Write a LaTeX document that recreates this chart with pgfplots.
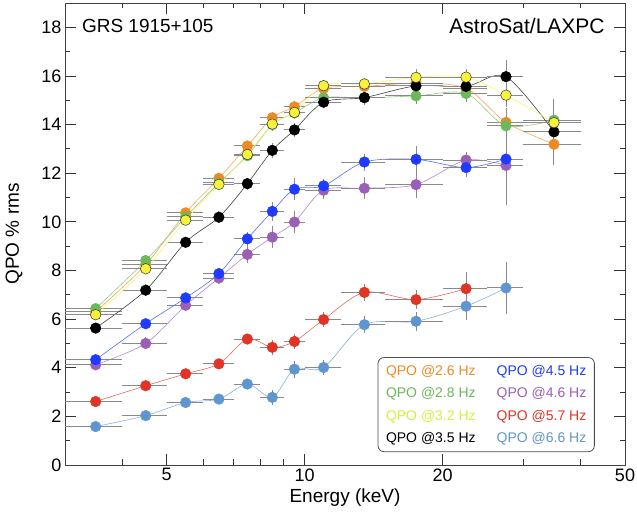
\documentclass[border=0pt]{standalone}
\usepackage{fontspec}
\setmainfont{Liberation Sans}
\setsansfont{Liberation Sans}
\usepackage{pgfplots}
\pgfplotsset{compat=1.18}
\usepackage{pgfplotstable}

\definecolor{cOrange}{HTML}{EC8B25}
\definecolor{cGreen}{HTML}{6DB85A}
\definecolor{cYellow}{HTML}{F8F23A}
\definecolor{cBlue}{HTML}{1F3BFF}
\definecolor{cPurple}{HTML}{9B5FB8}
\definecolor{cRed}{HTML}{DE3526}
\definecolor{cLBlue}{HTML}{5F96D0}
\definecolor{cLegYellow}{HTML}{D9EE3A}
\definecolor{cErr}{HTML}{8A8A8A}

% QPO @2.6 Hz
\pgfplotstableread{
x y ex ey
3.5 6.30 0.5 0.15
4.5 8.24 0.5 0.20
5.5 10.37 0.5 0.20
6.5 11.79 0.5 0.20
7.5 13.12 0.5 0.20
8.5 14.28 0.5 0.25
9.5 14.73 0.5 0.25
11 15.49 1 0.20
13.5 15.57 1.5 0.25
17.5 15.70 2.5 0.35
22.5 15.49 2.5 0.35
27.5 14.09 2.5 0.60
35 13.19 5 0.60
}\tOrange
% QPO @2.8 Hz
\pgfplotstableread{
x y ex ey
3.5 6.43 0.5 0.15
4.5 8.41 0.5 0.20
5.5 10.20 0.5 0.20
6.5 11.60 0.5 0.20
7.5 12.72 0.5 0.20
8.5 14.00 0.5 0.25
9.5 14.48 0.5 0.25
11 15.10 1 0.20
13.5 15.10 1.5 0.25
17.5 15.18 2.5 0.35
22.5 15.28 2.5 0.35
27.5 13.95 2.5 0.60
35 14.18 5 0.60
}\tGreen
% QPO @3.2 Hz
\pgfplotstableread{
x y ex ey
3.5 6.18 0.5 0.15
4.5 8.07 0.5 0.20
5.5 10.07 0.5 0.20
6.5 11.54 0.5 0.20
7.5 12.77 0.5 0.20
8.5 14.02 0.5 0.25
9.5 14.50 0.5 0.25
11 15.60 1 0.20
13.5 15.67 1.5 0.25
17.5 15.94 2.5 0.35
22.5 15.95 2.5 0.35
27.5 15.21 2.5 0.50
35 14.08 5 0.60
}\tYellow
% QPO @3.5 Hz
\pgfplotstableread{
x y ex ey
3.5 5.63 0.5 0.20
4.5 7.19 0.5 0.25
5.5 9.16 0.5 0.20
6.5 10.19 0.5 0.25
7.5 11.57 0.5 0.25
8.5 12.94 0.5 0.30
9.5 13.78 0.5 0.30
11 14.92 1 0.25
13.5 15.11 1.5 0.30
17.5 15.59 2.5 0.45
22.5 15.57 2.5 0.40
27.5 15.97 2.5 0.70
35 13.70 5 1.35
}\tBlack
% QPO @4.5 Hz
\pgfplotstableread{
x y ex ey
3.5 4.33 0.5 0.20
4.5 5.81 0.5 0.20
5.5 6.87 0.5 0.25
6.5 7.87 0.5 0.25
7.5 9.30 0.5 0.30
8.5 10.43 0.5 0.40
9.5 11.34 0.5 0.45
11 11.48 1 0.30
13.5 12.46 1.5 0.35
17.5 12.57 2.5 0.55
22.5 12.23 2.5 0.40
27.5 12.58 2.5 1.90
}\tBlue
% QPO @4.6 Hz
\pgfplotstableread{
x y ex ey
3.5 4.12 0.5 0.20
4.5 5.00 0.5 0.25
5.5 6.57 0.5 0.25
6.5 7.69 0.5 0.25
7.5 8.66 0.5 0.35
8.5 9.37 0.5 0.45
9.5 9.99 0.5 0.45
11 11.30 1 0.35
13.5 11.38 1.5 0.45
17.5 11.53 2.5 0.55
22.5 12.54 2.5 0.35
27.5 12.32 2.5 1.00
}\tPurple
% QPO @5.7 Hz
\pgfplotstableread{
x y ex ey
3.5 2.61 0.5 0.15
4.5 3.26 0.5 0.15
5.5 3.75 0.5 0.15
6.5 4.16 0.5 0.20
7.5 5.18 0.5 0.20
8.5 4.84 0.5 0.30
9.5 5.08 0.5 0.30
11 5.98 1 0.30
13.5 7.10 1.5 0.35
17.5 6.80 2.5 0.40
22.5 7.25 2.5 0.70
}\tRed
% QPO @6.6 Hz
\pgfplotstableread{
x y ex ey
3.5 1.58 0.5 0.20
4.5 2.03 0.5 0.15
5.5 2.57 0.5 0.15
6.5 2.71 0.5 0.15
7.5 3.33 0.5 0.20
8.5 2.78 0.5 0.30
9.5 3.94 0.5 0.35
11 4.01 1 0.30
13.5 5.77 1.5 0.35
17.5 5.91 2.5 0.40
22.5 6.53 2.5 0.55
27.5 7.28 2.5 1.05
}\tLBlue

\pgfplotsset{
  qpo/.style 2 args={
    smooth, tension=0.5, line width=0.6pt, draw=#1!75,
    mark=*, mark size=5.3pt, mark options={solid, fill=#1, draw=#2, line width=0.5pt},
    /pgfplots/error bars/x dir=both, /pgfplots/error bars/x explicit,
    /pgfplots/error bars/y dir=both, /pgfplots/error bars/y explicit,
    /pgfplots/error bars/error mark=none,
    /pgfplots/error bars/error bar style={line width=1pt, cErr, solid},
  },
}

\begin{document}
\begin{tikzpicture}
\begin{axis}[
  scale only axis, width=560pt, height=462pt,
  xmode=log, xmin=3, xmax=50, ymin=0, ymax=19,
  xtick={5,10,20,50}, xticklabels={5,10,20,50},
  minor xtick={4,6,7,8,9,30,40},
  ytick={0,2,...,18}, minor ytick={1,3,...,17},
  tick align=inside,
  major tick length=11pt, minor tick length=5.5pt,
  every tick/.style={black!80, line width=0.8pt},
  axis line style={line width=0.8pt, black!75},
  /pgf/number format/assume math mode=true,
  ticklabel style={font=\fontsize{18}{20}\selectfont},
  xlabel={Energy (keV)}, ylabel={QPO \% rms},
  label style={font=\fontsize{19}{22}\selectfont},
  xlabel style={yshift=-1pt},
  ylabel style={yshift=12pt},
  legend columns=2,
  legend cell align=left,
  legend style={at={(0.946,0.028)}, anchor=south east, draw=black!70,
    line width=0.8pt, rounded corners=6pt,
    font=\fontsize{14}{16}\selectfont,
    inner xsep=6pt, inner ysep=6pt, row sep=6.5pt,
    /tikz/every even column/.append style={column sep=17pt}},
  clip=false,
]
\addplot[forget plot, qpo={cLBlue}{cLBlue}] table[x=x, y=y, x error=ex, y error=ey] {\tLBlue};
\addplot[forget plot, qpo={cRed}{cRed}] table[x=x, y=y, x error=ex, y error=ey] {\tRed};
\addplot[forget plot, qpo={cPurple}{cPurple}] table[x=x, y=y, x error=ex, y error=ey] {\tPurple};
\addplot[forget plot, qpo={cBlue}{cBlue}] table[x=x, y=y, x error=ex, y error=ey] {\tBlue};
\addplot[forget plot, qpo={cOrange}{cOrange}] table[x=x, y=y, x error=ex, y error=ey] {\tOrange};
\addplot[forget plot, qpo={cGreen}{cGreen}] table[x=x, y=y, x error=ex, y error=ey] {\tGreen};
\addplot[forget plot, qpo={black}{black}] table[x=x, y=y, x error=ex, y error=ey] {\tBlack};
\addplot[forget plot, qpo={cYellow}{black!80}] table[x=x, y=y, x error=ex, y error=ey] {\tYellow};

\addlegendimage{empty legend}\addlegendentry{\textcolor{cOrange}{QPO @2.6 Hz}}
\addlegendimage{empty legend}\addlegendentry{\textcolor{cBlue}{QPO @4.5 Hz}}
\addlegendimage{empty legend}\addlegendentry{\textcolor{cGreen}{QPO @2.8 Hz}}
\addlegendimage{empty legend}\addlegendentry{\textcolor{cPurple}{QPO @4.6 Hz}}
\addlegendimage{empty legend}\addlegendentry{\textcolor{cLegYellow}{QPO @3.2 Hz}}
\addlegendimage{empty legend}\addlegendentry{\textcolor{cRed}{QPO @5.7 Hz}}
\addlegendimage{empty legend}\addlegendentry{\textcolor{black}{QPO @3.5 Hz}}
\addlegendimage{empty legend}\addlegendentry{\textcolor{cLBlue}{QPO @6.6 Hz}}

\node[anchor=west, inner sep=0pt, font=\fontsize{19}{22}\selectfont] at (rel axis cs:0.030,0.950) {GRS 1915+105};
\node[anchor=east, inner sep=0pt, font=\fontsize{21}{24}\selectfont] at (rel axis cs:0.964,0.950) {AstroSat/LAXPC};
\coordinate (bl) at (rel axis cs:0,0);
\coordinate (tr) at (rel axis cs:1,1);
\end{axis}
\pgfresetboundingbox
\path ([shift={(-65pt,-49pt)}]bl) rectangle ([shift={(12pt,3pt)}]tr);
\end{tikzpicture}
\end{document}
